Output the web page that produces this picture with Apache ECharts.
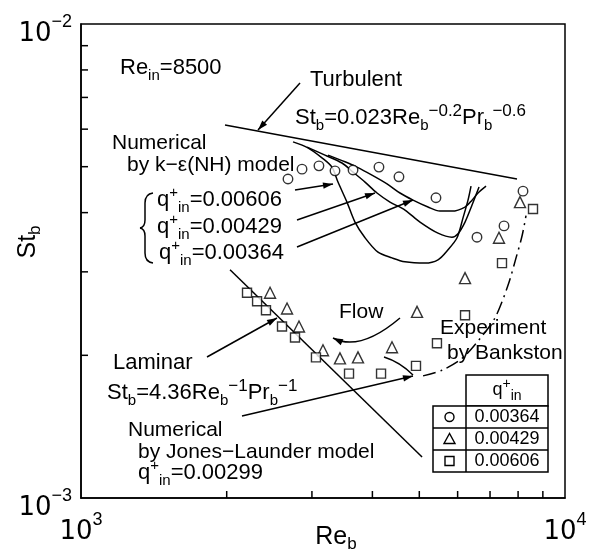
<!DOCTYPE html>
<html><head><meta charset="utf-8">
<script src="https://cdn.jsdelivr.net/npm/echarts@6/dist/echarts.min.js"></script>
<style>html,body{margin:0;padding:0;background:#fff}#c{width:604px;height:555px}</style>
</head><body><div id="c"></div>
<script>
// ---------- data ----------
const xMinorTicks = [2000, 3000, 4000, 5000, 6000, 7000, 8000, 9000];
const yMinorTicks = [0.002, 0.003, 0.004, 0.005, 0.006, 0.007, 0.008, 0.009];

// Experiment by Bankston
const circleRe = [2677, 2862, 3102, 3348, 3648, 4127, 4539, 5413, 6579, 7482, 8189];
const circleSt = [4.71e-3, 4.94e-3, 5.02e-3, 4.90e-3, 4.92e-3, 4.99e-3, 4.76e-3, 4.30e-3, 3.55e-3, 3.75e-3, 4.44e-3];
const triRe = [2458, 2665, 2821, 3162, 3428, 3735, 4391, 4946, 6215, 7305, 8072];
const triSt = [2.71e-3, 2.51e-3, 2.30e-3, 2.05e-3, 1.97e-3, 1.98e-3, 2.08e-3, 2.47e-3, 2.91e-3, 3.54e-3, 4.21e-3];
const sqRe = [2203, 2311, 2411, 2602, 2768, 3058, 3579, 4168, 4922, 5438, 6215, 7410, 8588];
const sqSt = [2.71e-3, 2.60e-3, 2.49e-3, 2.30e-3, 2.18e-3, 1.98e-3, 1.83e-3, 1.83e-3, 1.90e-3, 2.12e-3, 2.43e-3, 3.13e-3, 4.07e-3];

// Correlations
const turbRe = [1984, 7958];
const turbSt = [6.12e-3, 4.71e-3];
const lamRe = [2032, 5066];
const lamSt = [3.03e-3, 1.22e-3];

// Numerical k-eps (NH) model
const ke606Re = [2742, 2944, 3147, 3300, 3396, 3544, 3682, 3862, 4108, 4391, 4671, 5137, 5465, 5732, 5983, 6156, 6304, 6395];
const ke606St = [5.64e-3, 5.48e-3, 5.22e-3, 4.99e-3, 4.64e-3, 4.21e-3, 3.82e-3, 3.54e-3, 3.30e-3, 3.21e-3, 3.15e-3, 3.13e-3, 3.18e-3, 3.34e-3, 3.54e-3, 3.90e-3, 4.25e-3, 4.55e-3];
const ke429Re = [2931, 3192, 3461, 3648, 3862, 4089, 4349, 4671, 5017, 5465, 5841, 6011, 6215, 6426, 6643];
const ke429St = [5.50e-3, 5.29e-3, 5.09e-3, 4.87e-3, 4.64e-3, 4.40e-3, 4.21e-3, 4.05e-3, 3.82e-3, 3.62e-3, 3.55e-3, 3.61e-3, 3.82e-3, 4.15e-3, 4.53e-3];
const ke364Re = [3238, 3511, 3717, 3992, 4288, 4561, 4853, 5211, 5516, 5841, 6215, 6426, 6611, 6868];
const ke364St = [5.29e-3, 5.12e-3, 4.99e-3, 4.80e-3, 4.60e-3, 4.40e-3, 4.25e-3, 4.11e-3, 4.03e-3, 4.03e-3, 4.11e-3, 4.25e-3, 4.40e-3, 4.55e-3];

// Numerical Jones-Launder model
const jlRe = [5090, 5569, 6127, 6675, 7169, 7625, 7922, 8151, 8307];
const jlSt = [1.81e-3, 1.86e-3, 1.97e-3, 2.17e-3, 2.40e-3, 2.81e-3, 3.21e-3, 3.57e-3, 3.94e-3];

const legendValues = ['0.00364', '0.00429', '0.00606'];

// ---------- rendering ----------
const FONT = 'Liberation Sans';
const zip = (a, b) => a.map((v, i) => [v, b[i]]);
const chart = echarts.init(document.getElementById('c'), null, { renderer: 'canvas' });

const richA = {
  n: { fontSize: 21, lineHeight: 30, verticalAlign: 'middle', fontFamily: FONT, fill: '#000' },
  f: { fontSize: 22, lineHeight: 30, verticalAlign: 'middle', fontFamily: FONT, fill: '#000' },
  sub: { fontSize: 15, lineHeight: 21, verticalAlign: 'bottom', fontFamily: FONT, fill: '#000' },
  sup: { fontSize: 17, lineHeight: 19, verticalAlign: 'top', fontFamily: FONT, fill: '#000' },
  sp: { fontSize: 15, lineHeight: 19, verticalAlign: 'top', fontFamily: FONT, fill: '#000' }
};
function txt(x, y, text) {
  return {
    type: 'text', x: x, y: y, z: 100,
    style: { text: text, rich: richA, fill: '#000', fontFamily: FONT, fontSize: 21, align: 'left', verticalAlign: 'middle' }
  };
}
const LS = { stroke: '#000', lineWidth: 1.5, fill: null };
function head(x1, y1, x2, y2, len, w) {
  len = len || 10; w = w || 3.2;
  const a = Math.atan2(y2 - y1, x2 - x1);
  const bx = x2 - len * Math.cos(a), by = y2 - len * Math.sin(a);
  const px = -Math.sin(a) * w, py = Math.cos(a) * w;
  return { type: 'polygon', z: 100, shape: { points: [[x2, y2], [bx + px, by + py], [bx - px, by - py]] }, style: { fill: '#000' } };
}
function seg(x1, y1, x2, y2) {
  return { type: 'line', z: 100, shape: { x1: x1, y1: y1, x2: x2, y2: y2 }, style: LS };
}
function qcurve(x1, y1, cx, cy, x2, y2) {
  return { type: 'bezierCurve', z: 100, shape: { x1: x1, y1: y1, cpx1: cx, cpy1: cy, x2: x2, y2: y2 }, style: LS };
}
const arrowPos = [[300, 83, 258, 130], [295, 190, 333, 184], [297, 220, 375, 193], [297, 247, 413, 200], [207, 357, 277, 318], [242, 416, 413, 376]];

const graphics = [];
arrowPos.forEach(a => { graphics.push(seg(a[0], a[1], a[2], a[3])); graphics.push(head(a[0], a[1], a[2], a[3])); });
// curved Flow arrow
graphics.push(qcurve(400, 318, 360, 352, 333, 338));
graphics.push(head(350, 346, 333, 338, 10, 3.2));
// short leader
graphics.push(qcurve(384, 357, 400, 362, 413, 375));
// brace
graphics.push(qcurve(153, 193, 145, 194, 145, 203));
graphics.push(seg(145, 203, 145, 220));
graphics.push(qcurve(145, 220, 145, 227, 140, 228));
graphics.push(qcurve(140, 228, 145, 229, 145, 236));
graphics.push(seg(145, 236, 145, 253));
graphics.push(qcurve(145, 253, 145, 262, 153, 263));

// texts
graphics.push(txt(120, 68, '{f|Re}{sub|in}{f|=8500}'));
graphics.push(txt(310, 80, '{f|Turbulent}'));
graphics.push(txt(295, 118, '{f|St}{sub|b}{f|=0.023Re}{sub|b}{sup|−0.2}{f|Pr}{sub|b}{sup|−0.6}'));
graphics.push(txt(112, 143, '{n|Numerical}'));
graphics.push(txt(127, 165, '{n|by k−ε(NH) model}'));
graphics.push(txt(157, 200, '{f|q}{sp|+}{sub|in}{f|=0.00606}'));
graphics.push(txt(157, 227, '{f|q}{sp|+}{sub|in}{f|=0.00429}'));
graphics.push(txt(159, 253, '{f|q}{sp|+}{sub|in}{f|=0.00364}'));
graphics.push(txt(339, 312, '{n|Flow}'));
graphics.push(txt(440, 328, '{n|Experiment}'));
graphics.push(txt(447, 353, '{n|by Bankston}'));
graphics.push(txt(113, 363, '{f|Laminar}'));
graphics.push(txt(107, 393, '{f|St}{sub|b}{f|=4.36Re}{sub|b}{sup|−1}{f|Pr}{sub|b}{sup|−1}'));
graphics.push(txt(128, 430, '{n|Numerical}'));
graphics.push(txt(138, 452, '{n|by Jones−Launder model}'));
graphics.push(txt(138, 473, '{f|q}{sp|+}{sub|in}{f|=0.00299}'));

// axis titles
const richT = {
  n: { fontSize: 25, lineHeight: 32, verticalAlign: 'middle', fontFamily: FONT, fill: '#000' },
  sub: { fontSize: 17, lineHeight: 23, verticalAlign: 'bottom', fontFamily: FONT, fill: '#000' }
};
graphics.push({ type: 'text', x: 336, y: 537, style: { text: '{n|Re}{sub|b}', rich: richT, align: 'center', verticalAlign: 'middle', fill: '#000' } });
graphics.push({ type: 'text', x: 28, y: 242, rotation: Math.PI / 2, style: { text: '{n|St}{sub|b}', rich: richT, align: 'center', verticalAlign: 'middle', fill: '#000' } });

// legend table
const L = { x0: 433, xd: 466, x1: 548, yTop: 375, yH: 406, rowH: 22 };
graphics.push({ type: 'rect', z: 100, shape: { x: L.xd, y: L.yTop, width: L.x1 - L.xd, height: L.yH - L.yTop }, style: { stroke: '#000', lineWidth: 1.5, fill: '#fff' } });
graphics.push({ type: 'rect', z: 100, shape: { x: L.x0, y: L.yH, width: L.x1 - L.x0, height: 3 * L.rowH }, style: { stroke: '#000', lineWidth: 1.5, fill: '#fff' } });
graphics.push(Object.assign(seg(L.xd, L.yH, L.xd, L.yH + 3 * L.rowH), { z: 101 }));
for (let i = 1; i < 3; i++) graphics.push(Object.assign(seg(L.x0, L.yH + i * L.rowH, L.x1, L.yH + i * L.rowH), { z: 101 }));
const richL = {
  n: { fontSize: 18, lineHeight: 26, verticalAlign: 'middle', fontFamily: FONT, fill: '#000' },
  sub: { fontSize: 14, lineHeight: 19, verticalAlign: 'bottom', fontFamily: FONT, fill: '#000' },
  sup: { fontSize: 14, lineHeight: 16, verticalAlign: 'top', fontFamily: FONT, fill: '#000' }
};
graphics.push({ type: 'text', z: 102, x: (L.xd + L.x1) / 2, y: (L.yTop + L.yH) / 2, style: { text: '{n|q}{sup|+}{sub|in}', rich: richL, align: 'center', verticalAlign: 'middle', fill: '#000' } });
const symX = (L.x0 + L.xd) / 2;
legendValues.forEach((v, i) => {
  const cy = L.yH + (i + 0.5) * L.rowH;
  graphics.push({ type: 'text', z: 102, x: (L.xd + L.x1) / 2, y: cy, style: { text: '{n|' + v + '}', rich: richL, align: 'center', verticalAlign: 'middle', fill: '#000' } });
  const sst = { stroke: '#000', lineWidth: 1.4, fill: '#fff' };
  if (i === 0) graphics.push({ type: 'circle', z: 102, shape: { cx: symX, cy: cy, r: 4.5 }, style: sst });
  if (i === 1) graphics.push({ type: 'polygon', z: 102, shape: { points: [[symX, cy - 5.5], [symX - 5.5, cy + 4.5], [symX + 5.5, cy + 4.5]] }, style: sst });
  if (i === 2) graphics.push({ type: 'rect', z: 102, shape: { x: symX - 4.5, y: cy - 4.5, width: 9, height: 9 }, style: sst });
});

function powLabel(v) {
  const e = Math.round(Math.log10(v));
  if (Math.abs(v - Math.pow(10, e)) / v > 1e-6) return '';
  const s = e < 0 ? '−' + (-e) : '' + e;
  return '{b|10}{s|' + s + '}';
}
const richAx = {
  b: { fontSize: 26, lineHeight: 34, verticalAlign: 'bottom', fontFamily: 'DejaVu Sans', color: '#000' },
  s: { fontSize: 18, lineHeight: 18, verticalAlign: 'top', fontFamily: FONT, color: '#000' }
};
const markerStyle = { color: '#fff', borderColor: '#000', borderWidth: 1.4 };
const lineSer = (re, st, extra) => Object.assign({
  type: 'line', data: zip(re, st), showSymbol: false, symbol: 'none', silent: true,
  lineStyle: { color: '#000', width: 1.5 }, z: 5
}, extra || {});

const option = {
  backgroundColor: '#fff',
  animation: false,
  grid: { left: 81, right: 39, top: 24, bottom: 57, show: true, borderColor: '#000', borderWidth: 1.5, backgroundColor: 'transparent' },
  xAxis: {
    type: 'log', logBase: 10, min: 1000, max: 10000,
    axisLine: { show: true, lineStyle: { color: '#000', width: 1.5 } },
    axisTick: { show: false }, splitLine: { show: false }, minorTick: { show: false },
    axisLabel: { formatter: v => powLabel(v), rich: richAx, margin: 13, showMinLabel: true, showMaxLabel: true }
  },
  yAxis: {
    type: 'log', logBase: 10, min: 0.001, max: 0.01,
    axisLine: { show: true, lineStyle: { color: '#000', width: 1.5 } },
    axisTick: { show: false }, splitLine: { show: false }, minorTick: { show: false },
    axisLabel: { formatter: v => powLabel(v), rich: richAx, margin: 9, padding: [12, 0, 0, 0], showMinLabel: true, showMaxLabel: true }
  },
  series: [
    {
      type: 'custom', silent: true, clip: false, z: 10,
      data: xMinorTicks.map(v => [v, 0.001]),
      renderItem: (p, api) => { const c = api.coord([api.value(0), api.value(1)]); return { type: 'line', shape: { x1: c[0], y1: c[1], x2: c[0], y2: c[1] - 7 }, style: { stroke: '#000', lineWidth: 1.5 } }; }
    },
    {
      type: 'custom', silent: true, clip: false, z: 10,
      data: yMinorTicks.map(v => [1000, v]),
      renderItem: (p, api) => { const c = api.coord([api.value(0), api.value(1)]); return { type: 'line', shape: { x1: c[0], y1: c[1], x2: c[0] + 7, y2: c[1] }, style: { stroke: '#000', lineWidth: 1.5 } }; }
    },
    lineSer(turbRe, turbSt),
    lineSer(lamRe, lamSt),
    lineSer(ke606Re, ke606St, { smooth: 0.3 }),
    lineSer(ke429Re, ke429St, { smooth: 0.3 }),
    lineSer(ke364Re, ke364St, { smooth: 0.3 }),
    lineSer(jlRe, jlSt, { smooth: 0.3, lineStyle: { color: '#000', width: 1.5, type: [13, 5, 2, 5] } }),
    { type: 'scatter', data: zip(circleRe, circleSt), symbol: 'circle', symbolSize: 9.5, itemStyle: markerStyle, z: 20, silent: true },
    { type: 'scatter', data: zip(triRe, triSt), symbol: 'triangle', symbolSize: 11, itemStyle: markerStyle, z: 20, silent: true },
    { type: 'scatter', data: zip(sqRe, sqSt), symbol: 'rect', symbolSize: 9, itemStyle: markerStyle, z: 20, silent: true }
  ],
  graphic: graphics
};
chart.setOption(option);
</script>
</body></html>
